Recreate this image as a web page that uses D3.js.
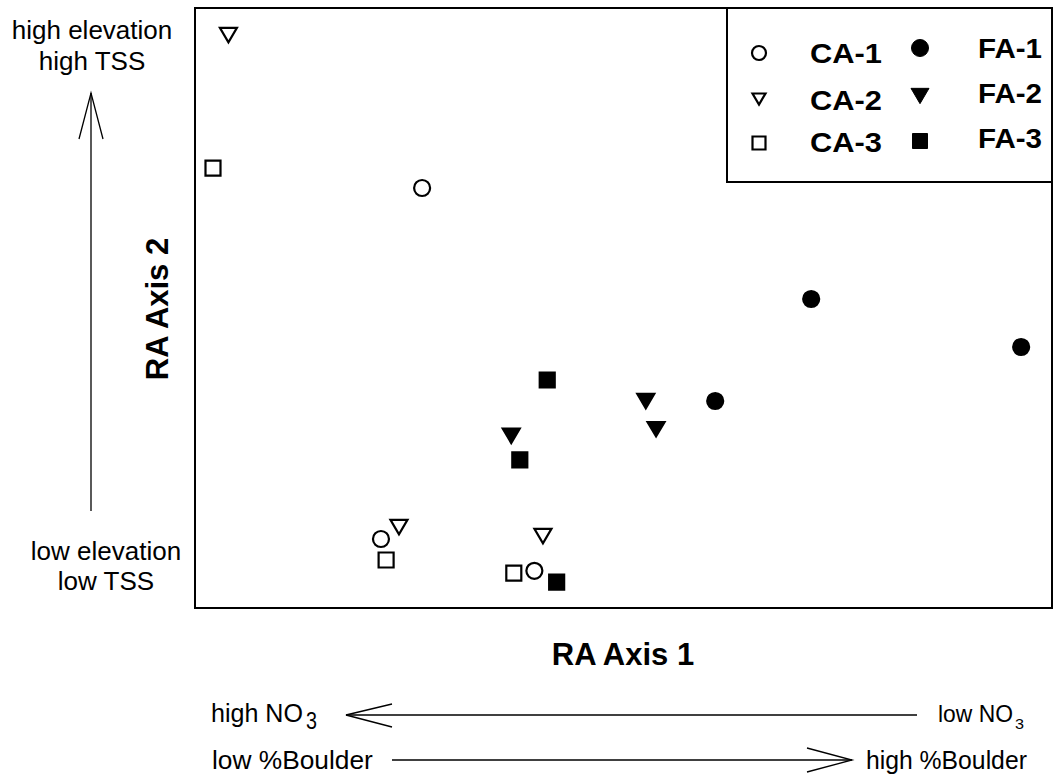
<!DOCTYPE html>
<html>
<head>
<meta charset="utf-8">
<script src="https://cdn.jsdelivr.net/npm/d3@7"></script>
<style>
  body { margin: 0; background: #fff; }
  text { font-family: Arial, "Liberation Sans", sans-serif; fill: #000; }
</style>
</head>
<body>
<div id="viz"></div>
<script>
// site groups and their ordination scores
var groups = ['CA-1', 'CA-2', 'CA-3', 'FA-1', 'FA-2', 'FA-3'];
var shapes = ['circle', 'triangle', 'square', 'circle', 'triangle', 'square'];
var filled = [false, false, false, true, true, true];
var axis1 = [
  [26.5, 21.7, 39.6],
  [3.9, 23.8, 40.6],
  [2.1, 22.3, 37.2],
  [71.9, 96.4, 60.7],
  [52.6, 53.8, 36.9],
  [41.1, 37.9, 42.2]
];
var axis2 = [
  [70.0, 11.5, 6.2],
  [95.5, 13.5, 12.0],
  [73.3, 8.0, 5.8],
  [51.5, 43.5, 34.5],
  [34.5, 29.8, 28.7],
  [38.0, 24.7, 4.3]
];

var W = 1054, H = 776;
var svg = d3.select('#viz').append('svg')
  .attr('width', W).attr('height', H);

var mLeft = 195, mRight = 1052, mTop = 8, mBottom = 608;
var x = d3.scaleLinear().domain([0, 100]).range([mLeft, mRight]);
var y = d3.scaleLinear().domain([0, 100]).range([mBottom, mTop]);

// s = half size of the marker
function symPath(shape, s) {
  if (shape == 'circle') {
    return 'M' + s + ',0A' + s + ',' + s + ' 0 1,1 ' + (-s) + ',0A' + s + ',' + s + ' 0 1,1 ' + s + ',0Z';
  }
  if (shape == 'square') {
    return 'M' + (-s) + ',' + (-s) + 'H' + s + 'V' + s + 'H' + (-s) + 'Z';
  }
  // downward triangle
  var h = s * 1.7;
  return 'M' + (-s) + ',' + (-h / 2) + 'L' + s + ',' + (-h / 2) + 'L0,' + (h / 2) + 'Z';
}
var plotSize = { circle: 8, square: 7.5, triangle: 8.5 };

// text squeezed/stretched horizontally to a given width
function fitText(tx, ty, str, size, len, bold) {
  var t = svg.append('text').attr('x', tx).attr('y', ty)
    .style('font-size', size + 'px').text(str);
  if (bold) t.style('font-weight', 'bold');
  if (len) {
    var w = t.node().getComputedTextLength();
    var k = len / w;
    t.attr('transform', `translate(${tx},0) scale(${k},1) translate(${-tx},0)`);
  }
  return t;
}

// frame
svg.append('rect')
  .attr('x', mLeft).attr('y', mTop)
  .attr('width', mRight - mLeft).attr('height', mBottom - mTop)
  .style('fill', 'none').style('stroke', '#000').style('stroke-width', 2);

// points
var pts = [];
groups.forEach(function (g, i) {
  axis1[i].forEach(function (v, j) {
    pts.push({ g: i, x: v, y: axis2[i][j] });
  });
});
svg.selectAll('path.pt').data(pts).join('path')
  .attr('class', 'pt')
  .attr('transform', d => `translate(${x(d.x)},${y(d.y)})`)
  .attr('d', d => symPath(shapes[d.g], plotSize[shapes[d.g]]))
  .style('fill', d => filled[d.g] ? '#000' : '#fff')
  .style('stroke', '#000')
  .style('stroke-width', 2.2);

// legend
svg.append('rect')
  .attr('x', 727).attr('y', mTop)
  .attr('width', mRight - 727).attr('height', 182 - mTop)
  .style('fill', '#fff').style('stroke', '#000').style('stroke-width', 2);
var legSym = [[53, 99, 143], [48, 96, 141]];
var legBase = [[63, 110, 152], [58, 103, 148]];
var legSize = [{ circle: 7, triangle: 6.5, square: 6.5 }, { circle: 8.5, triangle: 9, square: 7.5 }];
groups.forEach(function (g, i) {
  var col = filled[i] ? 1 : 0, row = i % 3;
  svg.append('path')
    .attr('transform', `translate(${col ? 920 : 759},${legSym[col][row]})`)
    .attr('d', symPath(shapes[i], legSize[col][shapes[i]]))
    .style('fill', filled[i] ? '#000' : '#fff')
    .style('stroke', '#000').style('stroke-width', col ? 1 : 2.2);
  fitText(col ? 978 : 810, legBase[col][row], g, 27, col ? 64 : 72, true);
});

// axis titles
svg.append('text')
  .attr('x', 623).attr('y', 665)
  .attr('text-anchor', 'middle')
  .style('font-size', '31px').style('font-weight', 'bold')
  .text('RA Axis 1');
svg.append('text')
  .attr('transform', 'translate(168,309) rotate(-90)')
  .attr('text-anchor', 'middle')
  .style('font-size', '31px').style('font-weight', 'bold')
  .text('RA Axis 2');

// notes beside the vertical gradient arrow
function note(tx, ty, str) {
  svg.append('text').attr('x', tx).attr('y', ty)
    .attr('text-anchor', 'middle')
    .style('font-size', '26px').text(str);
}
note(92, 39, 'high elevation');
note(92, 70, 'high TSS');
note(106, 560, 'low elevation');
note(106, 590, 'low TSS');

var line = d3.line();
function draw(p) {
  svg.append('path').attr('d', line(p))
    .style('fill', 'none').style('stroke', '#000').style('stroke-width', 1.3);
}
// vertical gradient arrow
draw([[91, 511], [91, 93]]);
draw([[79, 139], [91, 93], [103, 139]]);

// horizontal gradient arrows
fitText(211, 722, 'high NO', 25, 92);
fitText(306, 729, '3', 23, 11);
fitText(938, 722, 'low NO', 23, 75);
fitText(1015, 729, '3', 15, 9);
draw([[917, 715], [346, 715]]);
draw([[392, 704], [346, 715], [392, 727]]);

fitText(212, 769, 'low %Boulder', 25, 161);
fitText(866, 769, 'high %Boulder', 25, 161);
draw([[392, 760], [852, 760]]);
draw([[807, 748], [852, 760], [807, 772]]);
</script>
</body>
</html>
